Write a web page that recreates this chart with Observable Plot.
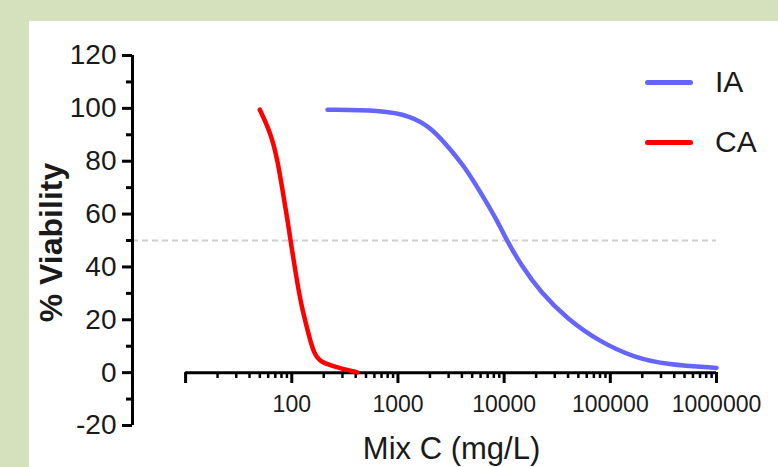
<!DOCTYPE html>
<html>
<head>
<meta charset="utf-8">
<script src="https://cdn.jsdelivr.net/npm/d3@7"></script>
<script src="https://cdn.jsdelivr.net/npm/@observablehq/plot@0.6"></script>
<style>
  html, body { margin: 0; padding: 0; }
  body { width: 778px; height: 467px; overflow: hidden; background: #d5e0bc; position: relative; font-family: "Liberation Sans", Arial, sans-serif; }
  #panel { position: absolute; left: 29px; top: 21px; width: 749px; height: 446px; background: #ffffff; }
  #chart { position: absolute; left: 0; top: 0; }
  .lg { position: absolute; left: 616px; height: 40px; display: flex; align-items: center; font-size: 30px; color: #1a1a1a; }
  .lg .ln { width: 48px; height: 5px; border-radius: 3px; margin-right: 22px; }
</style>
</head>
<body>
<div id="panel">
  <div id="chart"></div>
  <div class="lg" style="top:41px"><span class="ln" style="background:#6565fc"></span><span>IA</span></div>
  <div class="lg" style="top:101px"><span class="ln" style="background:#ff0000"></span><span>CA</span></div>
</div>
<script>
// ---- data ----
const caConc  = [50, 63, 73, 81.4, 90.8, 97.5, 108.7, 121, 145, 161.8, 186.6, 268, 414];
const caViab  = [99.5, 90.9, 81.0, 69.6, 58.3, 49.7, 37.9, 26.6, 14.0, 7.2, 3.9, 2.0, 0.1];
const iaConc  = [217, 686, 1315, 2029, 2913, 4178, 6000, 8610, 10700, 14260, 22000, 39300, 80900, 166500, 343300, 1000000];
const iaViab  = [99.5, 99.3, 97.2, 92.8, 85.9, 78.3, 68.2, 57.5, 49.7, 41.1, 30.4, 20.3, 11.5, 5.8, 3.0, 1.8];
const yTicks      = [-20, 0, 20, 40, 60, 80, 100, 120];
const yMinorTicks = [-10, 10, 30, 50, 70, 90, 110];
const xTicks      = [10, 100, 1000, 10000, 100000, 1000000];
const xTickLabels = ["", "100", "1000", "10000", "100000", "1000000"];
const xMinorTicks = [];
for (let d = 10; d < 1000000; d *= 10) for (let m = 2; m <= 9; m++) xMinorTicks.push(d * m);
const halfLine = 50;
const xLabel = "Mix C (mg/L)";
const yLabel = "% Viability";

const ca = caConc.map((c, i) => ({c, v: caViab[i]}));
const ia = iaConc.map((c, i) => ({c, v: iaViab[i]}));

const xAxisStart = 10 ** 0.5;   // where the y axis sits
const shiftToZero = -53;         // x axis drawn at y = 0

const fmtLabel = d => xTickLabels[xTicks.indexOf(d)];

const chart = Plot.plot({
  width: 749,
  height: 446,
  marginLeft: 103,
  marginRight: 62,
  marginTop: 34,
  marginBottom: 42,
  style: { background: "transparent", fontFamily: "Liberation Sans, Arial, sans-serif", overflow: "visible" },
  x: { type: "log", domain: [xAxisStart, 1000000] },
  y: { domain: [-20, 120] },
  marks: [
    // 50% dashed reference
    Plot.ruleY([halfLine], { x1: xAxisStart, x2: 1000000, stroke: "#cfcfcf", strokeWidth: 2, strokeDasharray: "6,4" }),
    // y axis
    Plot.ruleX([xAxisStart], { y1: -20, y2: 120, stroke: "#000", strokeWidth: 3 }),
    Plot.axisY({ anchor: "left", ticks: yTicks, tickSize: 10, tickPadding: 6, strokeWidth: 3, stroke: "#000",
                 fontSize: 28, fill: "#1a1a1a", tickFormat: d => String(d), label: null }),
    Plot.axisY({ anchor: "left", ticks: yMinorTicks, tickSize: 6, strokeWidth: 3, stroke: "#000",
                 tickFormat: () => "", label: null }),
    // x axis at y = 0
    Plot.ruleY([0], { x1: 10, x2: 1000000, stroke: "#000", strokeWidth: 3 }),
    Plot.axisX({ anchor: "bottom", ticks: xTicks, tickSize: 11, tickPadding: 12, strokeWidth: 3, stroke: "#000",
                 fontSize: 23, fill: "#1a1a1a", tickFormat: fmtLabel, label: null, dy: shiftToZero }),
    Plot.axisX({ anchor: "bottom", ticks: xMinorTicks, tickSize: 6, strokeWidth: 2.5, stroke: "#000",
                 tickFormat: () => "", label: null, dy: shiftToZero }),
    // axis titles
    Plot.text([yLabel], { frameAnchor: "left", rotate: -90, dx: -81, dy: 2, fontSize: 32, fontWeight: "bold",
                          fill: "#1a1a1a", textAnchor: "middle", lineAnchor: "middle" }),
    Plot.text([xLabel], { frameAnchor: "bottom", dx: 27, dy: 24, fontSize: 31, fill: "#1a1a1a",
                          textAnchor: "middle", lineAnchor: "middle" }),
    // curves
    Plot.line(ia, { x: "c", y: "v", stroke: "#6565fc", strokeWidth: 4.5, curve: "basis", strokeLinecap: "round" }),
    Plot.line(ca, { x: "c", y: "v", stroke: "#ff0000", strokeWidth: 4.5, curve: "basis", strokeLinecap: "round" })
  ]
});
document.getElementById("chart").appendChild(chart);
</script>
</body>
</html>
